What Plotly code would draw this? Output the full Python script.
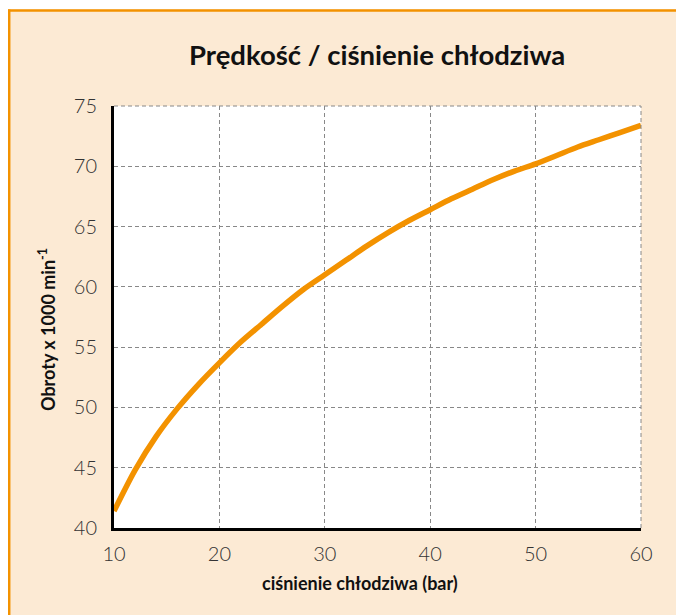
import plotly.graph_objects as go

pressure = [10, 12, 14, 16, 18, 20, 22, 24, 26, 28, 30, 32, 34, 36, 38, 40,
            42, 44, 46, 48, 50, 52, 54, 56, 58, 60]
speed = [41.4, 44.8, 47.6, 49.9, 51.9, 53.7, 55.4, 56.9, 58.4, 59.8, 61.0,
         62.2, 63.4, 64.5, 65.5, 66.4, 67.3, 68.1, 68.9, 69.6, 70.2, 70.9,
         71.6, 72.2, 72.8, 73.4]
x_ticks = [10, 20, 30, 40, 50, 60]
y_ticks = [40, 45, 50, 55, 60, 65, 70, 75]

title_text = "Prędkość / ciśnienie chłodziwa"
x_title = "ciśnienie chłodziwa (bar)"
y_title = "Obroty x 1000 min<sup>-1</sup>"

W, H = 684, 615
L, T = 106, 98
pw, ph = 527, 422
R = W - L - pw
B = H - T - ph

def px_x(p):
    return (p - L) / pw

def px_y(p):
    return (T + ph - p) / ph

ORANGE = "#F39200"
BEIGE = "#FCEAD4"
FONT = "Lato, 'Open Sans', sans-serif"
GRID = "#888888"

fig = go.Figure()
fig.add_trace(go.Scatter(
    x=pressure, y=speed, mode="lines",
    line=dict(color=ORANGE, width=5.5, shape="spline", smoothing=0.8),
    hoverinfo="skip", showlegend=False,
))

# frame: thin white margin strips + orange top/left border lines
fig.add_shape(type="rect", xref="paper", yref="paper",
              x0=px_x(0), x1=px_x(W), y0=px_y(1.2), y1=px_y(0),
              fillcolor="white", line=dict(width=0), layer="below")
fig.add_shape(type="rect", xref="paper", yref="paper",
              x0=px_x(0), x1=px_x(0.2), y0=px_y(H), y1=px_y(0),
              fillcolor="white", line=dict(width=0), layer="below")
fig.add_shape(type="line", xref="paper", yref="paper",
              x0=px_x(0), x1=px_x(W), y0=px_y(2.5), y1=px_y(2.5),
              line=dict(color=ORANGE, width=2.5), layer="below")
fig.add_shape(type="line", xref="paper", yref="paper",
              x0=px_x(1.2), x1=px_x(1.2), y0=px_y(H), y1=px_y(1.5),
              line=dict(color=ORANGE, width=2.5), layer="below")
# dashed top and right plot edges
fig.add_shape(type="line", xref="paper", yref="paper", x0=0, x1=1, y0=1, y1=1,
              line=dict(color=GRID, width=1, dash="4px,3px"))
fig.add_shape(type="line", xref="paper", yref="paper", x0=1, x1=1, y0=0, y1=1,
              line=dict(color=GRID, width=1, dash="4px,3px"))

fig.add_annotation(text="<b>" + title_text + "</b>", xref="paper", yref="paper",
                   x=px_x(369), y=px_y(46), xanchor="center", yanchor="middle",
                   showarrow=False, font=dict(family=FONT, size=27.5, color="#111"))
fig.add_annotation(text="<b>" + x_title + "</b>", xref="paper", yref="paper",
                   x=px_x(352), y=px_y(575), xanchor="center", yanchor="middle",
                   showarrow=False, font=dict(family=FONT, size=18, color="#111"))
fig.add_annotation(text="<b>" + y_title + "</b>", xref="paper", yref="paper",
                   x=px_x(39), y=px_y(322), xanchor="center", yanchor="middle",
                   textangle=-90, showarrow=False,
                   font=dict(family=FONT, size=18, color="#111"))

axis_common = dict(
    showgrid=True, gridcolor=GRID, griddash="4px,3px", gridwidth=1,
    showline=True, linecolor="black", linewidth=3,
    ticks="outside", tickcolor="rgba(0,0,0,0)",
    tickfont=dict(family=FONT, size=20, color="#333", weight=300),
    zeroline=False,
)

fig.update_layout(
    width=W, height=H,
    margin=dict(l=L, r=R, t=T, b=B),
    paper_bgcolor=BEIGE,
    plot_bgcolor="white",
    xaxis=dict(range=[10, 60], tickvals=x_ticks, ticklen=6, **axis_common),
    yaxis=dict(range=[40, 75], tickvals=y_ticks, ticklen=10, **axis_common),
)

fig.write_html("out.html")
